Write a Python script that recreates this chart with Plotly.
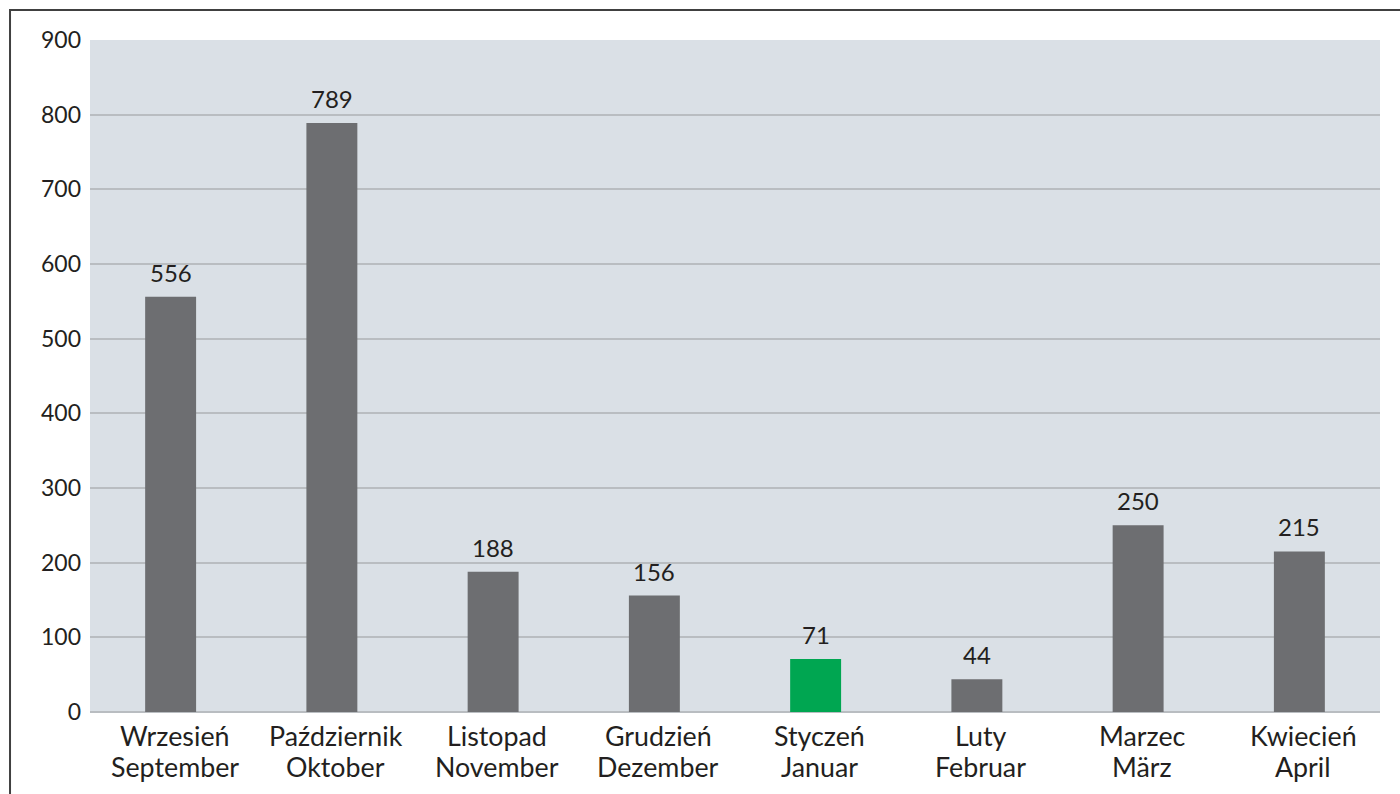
import plotly.graph_objects as go

months_pl = ["Wrzesień", "Październik", "Listopad", "Grudzień", "Styczeń", "Luty", "Marzec", "Kwiecień"]
months_de = ["September", "Oktober", "November", "Dezember", "Januar", "Februar", "März", "April"]
values = [556, 789, 188, 156, 71, 44, 250, 215]
highlight = "Styczeń"

colors = ["#00a651" if pl == highlight else "#6d6e71" for pl in months_pl]
TEXT = "#231f20"

fig = go.Figure(
    go.Bar(
        x=months_pl,
        y=values,
        marker=dict(color=colors, line=dict(width=0)),
        hoverinfo="x+y",
    )
)

annotations = []
# value labels above each bar
for pl, v in zip(months_pl, values):
    annotations.append(dict(
        x=pl, y=v, xref="x", yref="y", text=str(v), showarrow=False,
        yanchor="bottom", yshift=8,
        font=dict(family="Lato", size=24, color=TEXT),
    ))
# two-line category labels (Polish / German)
for pl, de in zip(months_pl, months_de):
    annotations.append(dict(
        x=pl, y=0, xref="x", yref="paper", text=pl, showarrow=False,
        yanchor="middle", yshift=-24, xshift=4,
        font=dict(family="Lato", size=26.8, color=TEXT),
    ))
    annotations.append(dict(
        x=pl, y=0, xref="x", yref="paper", text=de, showarrow=False,
        yanchor="middle", yshift=-55, xshift=4,
        font=dict(family="Lato", size=26.8, color=TEXT),
    ))

fig.update_layout(
    width=1400,
    height=794,
    margin=dict(l=90, r=20, t=40, b=82),
    paper_bgcolor="white",
    plot_bgcolor="#dae0e6",
    bargap=0.684,
    showlegend=False,
    font=dict(family="Lato", color=TEXT),
    xaxis=dict(
        showgrid=False,
        showticklabels=False,
        ticks="",
        showline=False,
    ),
    yaxis=dict(
        range=[0, 900],
        tick0=0,
        dtick=100,
        showgrid=True,
        gridcolor="#b9bdc1",
        gridwidth=2,
        zeroline=True,
        zerolinecolor="#b9bdc1",
        zerolinewidth=2,
        tickfont=dict(family="Lato", size=23, color=TEXT),
        ticks="",
        ticklabelstandoff=8,
    ),
    annotations=annotations,
    shapes=[
        dict(
            type="rect",
            xref="paper",
            yref="paper",
            x0=-0.062,
            x1=1.08,
            y0=-0.2,
            y1=1.0446,
            line=dict(color="#404040", width=2),
            fillcolor="rgba(0,0,0,0)",
            layer="below",
        )
    ],
)

fig.write_html("out.html")
